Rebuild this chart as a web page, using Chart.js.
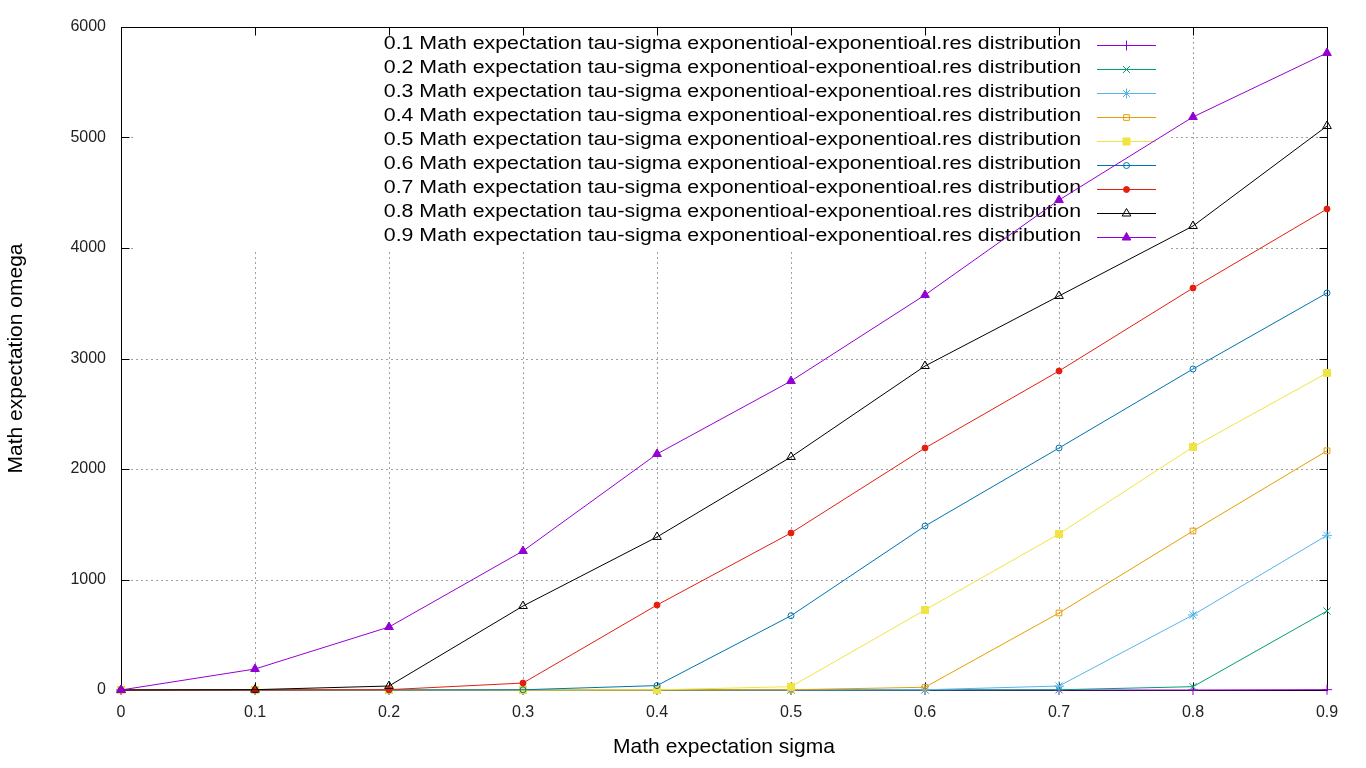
<!DOCTYPE html>
<html>
<head>
<meta charset="utf-8">
<script src="https://cdn.jsdelivr.net/npm/chart.js@4.4.1/dist/chart.umd.min.js"></script>
<style>
html,body{margin:0;padding:0;background:#fff;}
#wrap{width:1366px;height:768px;}
</style>
</head>
<body>
<div id="wrap"><canvas id="c" width="1366" height="768"></canvas></div>
<script>
// ---- data ----
const xLabels = ['0','0.1','0.2','0.3','0.4','0.5','0.6','0.7','0.8','0.9'];
const yTickValues = [0,1000,2000,3000,4000,5000,6000];
const yTickLabels = ['0','1000','2000','3000','4000','5000','6000'];
const seriesNames = [
  '0.1 Math expectation tau-sigma exponentioal-exponentioal.res distribution',
  '0.2 Math expectation tau-sigma exponentioal-exponentioal.res distribution',
  '0.3 Math expectation tau-sigma exponentioal-exponentioal.res distribution',
  '0.4 Math expectation tau-sigma exponentioal-exponentioal.res distribution',
  '0.5 Math expectation tau-sigma exponentioal-exponentioal.res distribution',
  '0.6 Math expectation tau-sigma exponentioal-exponentioal.res distribution',
  '0.7 Math expectation tau-sigma exponentioal-exponentioal.res distribution',
  '0.8 Math expectation tau-sigma exponentioal-exponentioal.res distribution',
  '0.9 Math expectation tau-sigma exponentioal-exponentioal.res distribution'
];
const s01 = [0,0,0,0,0,0,0,0,0,3];
const s02 = [0,0,0,0,0,0,0,2,30,715];
const s03 = [0,0,0,0,0,0,2,36,679,1400];
const s04 = [0,0,0,0,0,2,25,697,1439,2165];
const s05 = [0,0,0,0,2,30,724,1412,2199,2869];
const s06 = [0,0,0,2,40,672,1484,2190,2905,3593];
const s07 = [0,0,3,63,769,1421,2190,2887,3638,4353];
const s08 = [0,3,36,760,1385,2109,2932,3566,4199,5104];
const s09 = [0,190,570,1258,2136,2796,3575,4434,5186,5765];
const seriesValues = [s01,s02,s03,s04,s05,s06,s07,s08,s09];

// ---- styles ----
const colors = ['#9400d3','#009e73','#56b4e9','#e69f00','#f0e442','#0072b2','#e51e10','#000000','#9400d3'];
const pStyles = ['cross','crossRot','star','rect','rect','circle','circle','triangle','triangle'];
const pFilled = [false,false,false,false,true,false,true,false,true];
const pRadius = [5,5,5,4,5,3,3,5,5];

const datasets = seriesValues.map((vals,i)=>({
  label: seriesNames[i],
  data: vals,
  borderColor: colors[i],
  backgroundColor: pFilled[i] ? colors[i] : '#ffffff',
  pointStyle: pStyles[i],
  pointRadius: pRadius[i],
  pointBorderWidth: 1,
  pointBorderColor: colors[i],
  pointBackgroundColor: pFilled[i] ? colors[i] : 'rgba(255,255,255,0)',
  borderWidth: 1,
  tension: 0,
  fill: false,
  clip: 12,
  order: 9 - i
}));

const FONT = '"Liberation Sans", Arial, sans-serif';

const decor = {
  id: 'decor',
  beforeDatasetsDraw(chart){
    const ctx = chart.ctx;
    const a = chart.chartArea;
    const xs = chart.scales.x, ys = chart.scales.y;
    ctx.save();
    // grid
    ctx.strokeStyle = '#a0a0a0';
    ctx.lineWidth = 1;
    ctx.setLineDash([2,3]);
    xLabels.forEach((l,i)=>{
      if(i===0||i===xLabels.length-1) return;
      const px = Math.round(xs.getPixelForValue(i))+0.5;
      ctx.beginPath(); ctx.moveTo(px,a.top); ctx.lineTo(px,a.bottom); ctx.stroke();
    });
    yTickValues.forEach((v,i)=>{
      if(i===0||i===yTickValues.length-1) return;
      const py = Math.round(ys.getPixelForValue(v))+0.5;
      ctx.beginPath(); ctx.moveTo(a.left,py); ctx.lineTo(a.right,py); ctx.stroke();
    });
    ctx.setLineDash([]);
    // opaque key box
    ctx.fillStyle = '#ffffff';
    ctx.fillRect(133, a.top+1, 1171-133, 249-a.top-1);
    // frame + ticks
    ctx.strokeStyle = '#000';
    ctx.lineWidth = 1;
    const L = Math.round(a.left)+0.5, R = Math.round(a.right)+0.5, T = Math.round(a.top)+0.5, B = Math.round(a.bottom)+0.5;
    ctx.strokeRect(L, T, R-L, B-T);
    const tl = 8;
    ctx.beginPath();
    xLabels.forEach((l,i)=>{
      const px = Math.round(xs.getPixelForValue(i))+0.5;
      ctx.moveTo(px,B); ctx.lineTo(px,B-tl);
      ctx.moveTo(px,T); ctx.lineTo(px,T+tl);
    });
    yTickValues.forEach(v=>{
      const py = Math.round(ys.getPixelForValue(v))+0.5;
      ctx.moveTo(L,py); ctx.lineTo(L+tl,py);
      ctx.moveTo(R,py); ctx.lineTo(R-tl,py);
    });
    ctx.stroke();
    // legend
    chart.data.datasets.forEach((ds,i)=>{
      const y = 44 + 24*i;
      ctx.save();
      ctx.font = '18px ' + FONT;
      ctx.textAlign = 'right';
      ctx.textBaseline = 'middle';
      ctx.fillStyle = '#000';
      ctx.translate(1081, y);
      ctx.scale(1.185, 1);
      ctx.fillText(ds.label, 0, 0);
      ctx.restore();
      ctx.strokeStyle = ds.borderColor;
      ctx.lineWidth = 1;
      ctx.beginPath(); ctx.moveTo(1097, y+1.5); ctx.lineTo(1156, y+1.5); ctx.stroke();
      ctx.save();
      ctx.fillStyle = ds.pointBackgroundColor;
      ctx.strokeStyle = ds.pointBorderColor;
      ctx.lineWidth = 1;
      Chart.helpers.drawPoint(ctx, {pointStyle: ds.pointStyle, radius: ds.pointRadius, rotation: 0, borderWidth: 1}, 1126.5, y+1.5);
      ctx.restore();
    });
    ctx.restore();
  }
};

new Chart(document.getElementById('c'), {
  type: 'line',
  data: { labels: xLabels, datasets },
  options: {
    responsive: false,
    animation: false,
    devicePixelRatio: 1,
    layout: { padding: { left: 0, right: 39, top: 27, bottom: 0 } },
    plugins: { legend: { display: false }, tooltip: { enabled: false } },
    scales: {
      x: {
        type: 'category',
        offset: false,
        grid: { display: false, drawTicks: false },
        border: { display: false },
        ticks: { color: '#222', font: { family: FONT, size: 16 }, padding: 13, maxRotation: 0, autoSkip: false },
        title: { display: true, text: 'Math expectation sigma', color: '#000', font: { family: FONT, size: 21 }, padding: { top: 10, bottom: 8 } },
        afterFit(s){ s.height = 78; }
      },
      y: {
        type: 'linear',
        min: 0, max: 6000,
        afterBuildTicks(s){ s.ticks = yTickValues.map(v=>({value:v})); },
        grid: { display: false, drawTicks: false },
        border: { display: false },
        ticks: {
          color: '#222', font: { family: FONT, size: 16 }, padding: 15,
          callback(v){ const k = yTickValues.indexOf(v); return k >= 0 ? yTickLabels[k] : ''; }
        },
        title: { display: true, text: 'Math expectation omega', color: '#000', font: { family: FONT, size: 21 }, padding: { top: 4, bottom: 4 } },
        afterFit(s){ s.width = 121; }
      }
    }
  },
  plugins: [decor]
});
</script>
</body>
</html>
